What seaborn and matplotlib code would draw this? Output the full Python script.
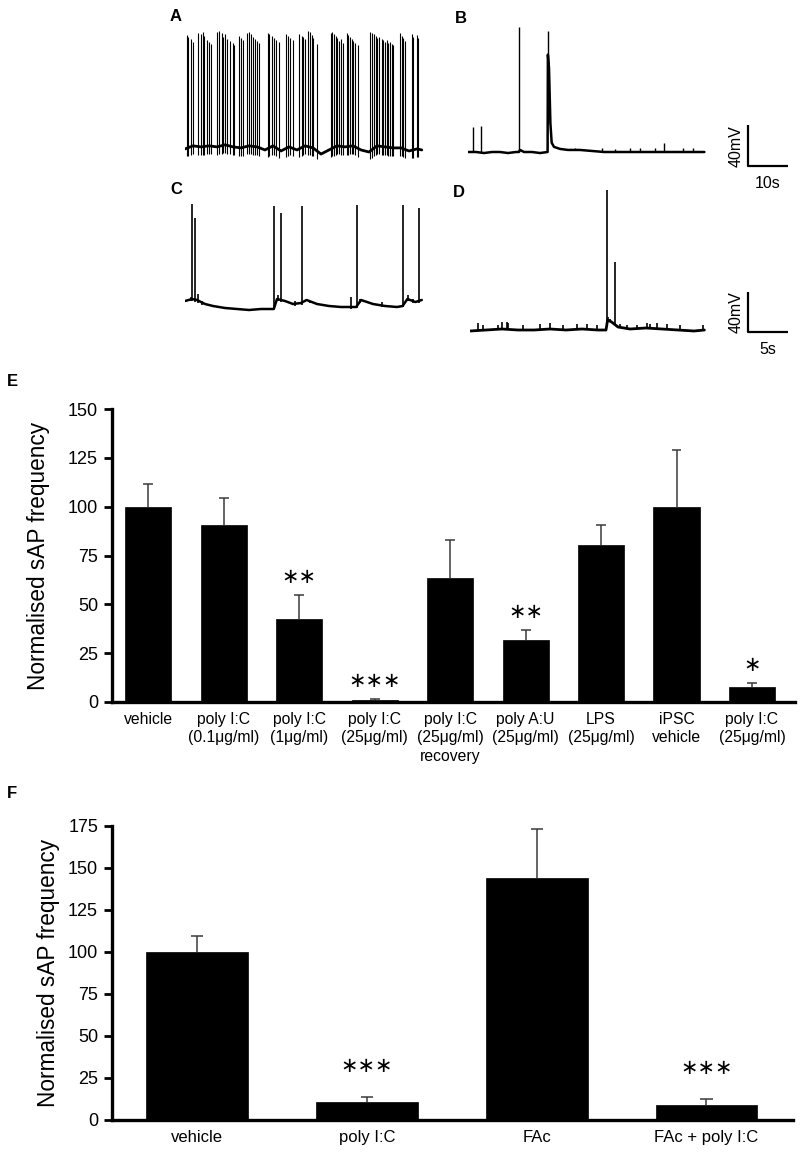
import numpy as np
import pandas as pd
import matplotlib
matplotlib.use("Agg")
import matplotlib.pyplot as plt
import seaborn as sns

# ---------------- traces (time in s, potential in mV) ----------------
# A: spontaneous firing, vehicle
A_spike_t = [0.42, 0.83, 1.42, 1.92, 3.33, 3.92, 4.42, 4.83, 5.42, 6.08, 6.58,
             8.08, 8.58, 9.17, 9.58, 10.0, 10.58, 11.25, 11.92, 12.33, 13.58, 14.0,
             14.42, 15.58, 16.08, 16.58, 17.08, 17.58, 18.08, 18.58, 20.67, 21.08,
             21.67, 22.25, 22.75, 23.42, 25.25, 25.67, 26.25, 26.92, 28.58, 29.17,
             29.58, 30.0, 30.83, 31.25, 31.67, 32.08, 32.92, 36.5, 36.83, 37.25,
             37.67, 38.08, 38.58, 38.92, 39.58, 40.42, 40.83, 41.25, 41.67, 42.08,
             42.5, 43.33, 46.25, 46.67, 47.25, 47.67, 48.08, 48.58, 49.17, 49.58,
             50.0, 50.42, 50.83, 51.25, 51.67, 52.08, 53.75, 54.17, 54.58, 55.0,
             56.67, 57.08, 57.92, 58.33]
A_spike_v = [54, 52, 50, 47, 56, 55, 57, 53, 49, 47, 45,
             57, 58, 56, 52, 55, 50, 48, 46, 44, 53, 51,
             49, 56, 57, 55, 52, 50, 48, 46, 56, 55,
             53, 51, 49, 47, 55, 53, 51, 49, 55, 53,
             52, 50, 58, 57, 54, 51, 45, 56, 57, 55,
             53, 51, 48, 50, 46, 56, 54, 52, 50, 48,
             46, 44, 57, 56, 55, 53, 51, 52, 50, 49,
             47, 49, 46, 47, 45, 44, 56, 53, 51, 48,
             55, 52, 54, 51]
A_base_t = [0, 2, 4, 6, 8, 10, 12, 14, 16, 18, 20, 22, 24, 26, 28, 30,
            32, 34, 36, 38, 40, 42, 44, 46, 48, 50, 52, 54, 56, 58, 59.2]
A_base_v = [-57, -54, -55, -54, -55, -53, -55, -56, -54, -55, -58, -54, -59,
            -55, -58, -54, -56, -62, -58, -54, -55, -54, -58, -60, -54, -55,
            -56, -56, -59, -57, -58]

# B: poly I:C
B_spike_t = [1.33, 3.25, 12.75, 19.92, 26.75, 33.42, 36.75, 40.5, 43.0, 46.75,
             49.0, 53.83, 56.33]
B_spike_v = [-36, -35, 62, 58, -56, -56, -57, -56, -56, -56, -51, -56, -56]
B_base_t = [0, 2, 4, 6, 8, 10, 12, 12.7, 13.0, 14, 16, 18, 19.9, 19.97, 20.25,
            20.6, 20.92, 21.5, 23, 25, 28, 31, 34, 37, 40, 43, 46, 49, 52, 55,
            57, 59.1]
B_base_v = [-60, -60, -61, -60, -60, -61, -60, -60, -58, -60, -60, -61, -60,
            35, 22, -32, -51, -55, -57, -58, -58, -59, -60, -60, -60, -60, -60,
            -60, -60, -60, -60, -60]

# C: vehicle (faster sweep)
C_spike_t = [0.92, 1.29, 11.17, 12.0, 14.58, 21.46, 27.29, 29.21,
             0.7, 1.67, 2.17, 11.6, 13.75, 15.6, 20.8, 21.9, 24.6, 27.9, 28.5]
C_spike_v = [45, 31, 43, 36, 43, 44, 44, 41,
             -48, -45, -52, -46, -52, -53, -48, -50, -53, -46, -50]
C_base_t = [0, 0.9, 1.5, 2.5, 3.5, 5, 6.5, 8, 9.5, 11.1, 11.5, 12.5, 13.5,
            14.5, 15.2, 16.5, 18, 19.5, 21.4, 22, 23.5, 25, 26.5, 27.2, 27.8,
            28.8, 29.6]
C_base_v = [-52, -50, -51, -55, -57, -59, -60, -61, -60, -60, -50, -52, -55,
            -54, -51, -55, -57, -58, -58, -51, -55, -57, -58, -57, -50, -53, -51]

# D: poly I:C (faster sweep)
D_spike_t = [17.08, 18.08, 1.04, 1.67, 3.54, 3.96, 4.58, 4.79, 6.67, 8.75,
             10.0, 11.67, 13.33, 14.58, 15.83, 17.3, 17.5, 18.75, 19.58,
             20.83, 22.08, 22.5, 23.33, 24.58, 26.25, 29.17]
D_spike_v = [80, 8, -53, -55, -55, -52, -52, -53, -55, -54,
             -53, -55, -54, -54, -55, -47, -49, -54, -55,
             -55, -53, -54, -53, -54, -55, -55]
D_base_t = [0, 2, 4, 6, 8, 10, 12, 14, 16, 17.0, 17.2, 17.7, 18.5, 20, 22,
            24, 26, 28, 29.3]
D_base_v = [-61, -60, -59, -60, -60, -59, -60, -59, -60, -60, -50, -52, -57,
            -59, -58, -59, -60, -61, -60]

SCALE_TOP = (10, 40)   # s, mV
SCALE_BOT = (5, 40)

# ---------------- bar data ----------------
E_labels = ["vehicle", "poly I:C\n(0.1μg/ml)", "poly I:C\n(1μg/ml)",
            "poly I:C\n(25μg/ml)", "poly I:C\n(25μg/ml)\nrecovery",
            "poly A:U\n(25μg/ml)", "LPS\n(25μg/ml)", "iPSC\nvehicle",
            "poly I:C\n(25μg/ml)"]
E_mean = [100, 90.7, 42.7, 0.9, 63.7, 31.8, 80.3, 100, 7.8]
E_sem = [11.4, 13.7, 12.1, 0.6, 19.3, 5.1, 10.1, 29.2, 2.1]
E_stars = ["", "", "∗∗", "∗∗∗", "", "∗∗", "", "", "∗"]

F_labels = ["vehicle", "poly I:C", "FAc", "FAc + poly I:C"]
F_mean = [100, 10.5, 144, 8.9]
F_sem = [9.6, 3.4, 28.8, 3.6]
F_stars = ["", "∗∗∗", "", "∗∗∗"]

# ---------------- style ----------------
sns.set_style("white")
plt.rcParams["font.family"] = ["Liberation Sans", "DejaVu Sans"]
for k in ["text.color", "axes.labelcolor", "xtick.color", "ytick.color"]:
    plt.rcParams[k] = "black"

W, H = 800, 1156
fig = plt.figure(figsize=(W / 100, H / 100), dpi=100)


def px_axes(x0, y0, x1, y1):
    return fig.add_axes([x0 / W, 1 - y1 / H, (x1 - x0) / W, (y1 - y0) / H])


def trace_axes(x0, y0, x1, y1, s_px, mv_px, base_px):
    ax = px_axes(x0, y0, x1, y1)
    ax.set_xlim(0, (x1 - x0) / s_px)
    ax.set_ylim(-60 - (y1 - base_px) / mv_px, -60 + (base_px - y0) / mv_px)
    ax.axis("off")
    return ax


def draw_trace(ax, bt, bv, st, sv, lw_base, lw_spike, ahp):
    sns.lineplot(x=bt, y=bv, ax=ax, color="black", lw=lw_base,
                 estimator=None, sort=False)
    foot = np.interp(st, bt, bv) - ahp
    ax.vlines(st, foot, sv, color="black", lw=lw_spike)


def scale_bar(ax, x0, y0, size, tlabel, vlabel):
    ax.plot([x0, x0, x0 + size[0]], [y0 + size[1], y0, y0], color="black",
            lw=1.6, solid_capstyle="butt")
    ax.annotate(vlabel, (x0, y0 + size[1] / 2), xytext=(-3, 0),
                textcoords="offset points", rotation=90, ha="right",
                va="center", fontsize=11.5)
    ax.annotate(tlabel, (x0 + size[0] / 2, y0), xytext=(0, -7),
                textcoords="offset points", ha="center", va="top",
                fontsize=11.5)


axA = trace_axes(185, 20, 425, 172, 4.0, 1.025, 152)
draw_trace(axA, A_base_t, A_base_v, A_spike_t, A_spike_v, 2.0, 0.8, 8)
axB = trace_axes(468, 20, 800, 172, 4.0, 1.025, 152)
draw_trace(axB, B_base_t, B_base_v, B_spike_t, B_spike_v, 1.8, 1.0, 0)
scale_bar(axB, 70, -74, SCALE_TOP, "10s", "40mV")

axC = trace_axes(185, 185, 425, 345, 8.0, 1.0, 309)
draw_trace(axC, C_base_t, C_base_v, C_spike_t, C_spike_v, 1.8, 1.2, 2)
axD = trace_axes(470, 185, 800, 350, 8.0, 1.0, 330)
draw_trace(axD, D_base_t, D_base_v, D_spike_t, D_spike_v, 2.0, 1.2, 1)
scale_bar(axD, 34.75, -62, SCALE_BOT, "5s", "40mV")

for lab, x, y in [("A", 170, 9), ("B", 455, 11), ("C", 170, 182),
                  ("D", 453, 185), ("E", 7, 374), ("F", 7, 786)]:
    fig.text(x / W, 1 - y / H, lab, fontsize=12, fontweight="bold",
             ha="left", va="top")


def bar_panel(ax, labels, mean, sem, stars, width, ylim, ystep, xlim,
              lab_size, cap_half, star_off, ylab_x):
    pos = np.arange(len(labels))
    sns.barplot(x=list(pos), y=mean, ax=ax, color="black", width=width,
                saturation=1, edgecolor="black", linewidth=0.5)
    top = np.array(mean) + np.array(sem)
    # upper half of the error bar only
    ax.vlines(pos, mean, top, color="#3a3a3a", lw=1.1, zorder=3)
    ax.hlines(top, pos - cap_half, pos + cap_half, color="#3a3a3a", lw=1.1,
              zorder=3)
    for p, t, st in zip(pos, top, stars):
        if st:
            ax.annotate(st, (p, t), xytext=(0, star_off),
                        textcoords="offset points", ha="center", va="center",
                        fontsize=15, family="DejaVu Sans")
    ax.set_xlim(*xlim)
    ax.set_ylim(*ylim)
    ax.set_yticks(np.arange(ylim[0], ylim[1] + 1, ystep))
    ax.set_xticks(pos, labels, fontsize=lab_size, linespacing=1.3)
    ax.tick_params(axis="y", labelsize=13, length=6, width=2, direction="out",
                   left=True, pad=4)
    ax.tick_params(axis="x", length=0, pad=7)
    for side in ["top", "right"]:
        ax.spines[side].set_visible(False)
    for side in ["left", "bottom"]:
        ax.spines[side].set_linewidth(2.4)
        ax.spines[side].set_color("black")
    ax.set_ylabel("Normalised sAP frequency", fontsize=16.3)
    ax.yaxis.set_label_coords(ylab_x, 0.5)


axE = px_axes(112, 409, 795, 702)
bar_panel(axE, E_labels, E_mean, E_sem, E_stars, 0.61, (0, 150), 25,
          (-0.48, 8.57), 11.3, 0.066, 13, -0.091)

axF = px_axes(112, 825.7, 793, 1120)
bar_panel(axF, F_labels, F_mean, F_sem, F_stars, 0.6, (0, 175), 25,
          (-0.503, 3.51), 12, 0.036, 22, -0.076)

fig.savefig("out.png", dpi=100)
